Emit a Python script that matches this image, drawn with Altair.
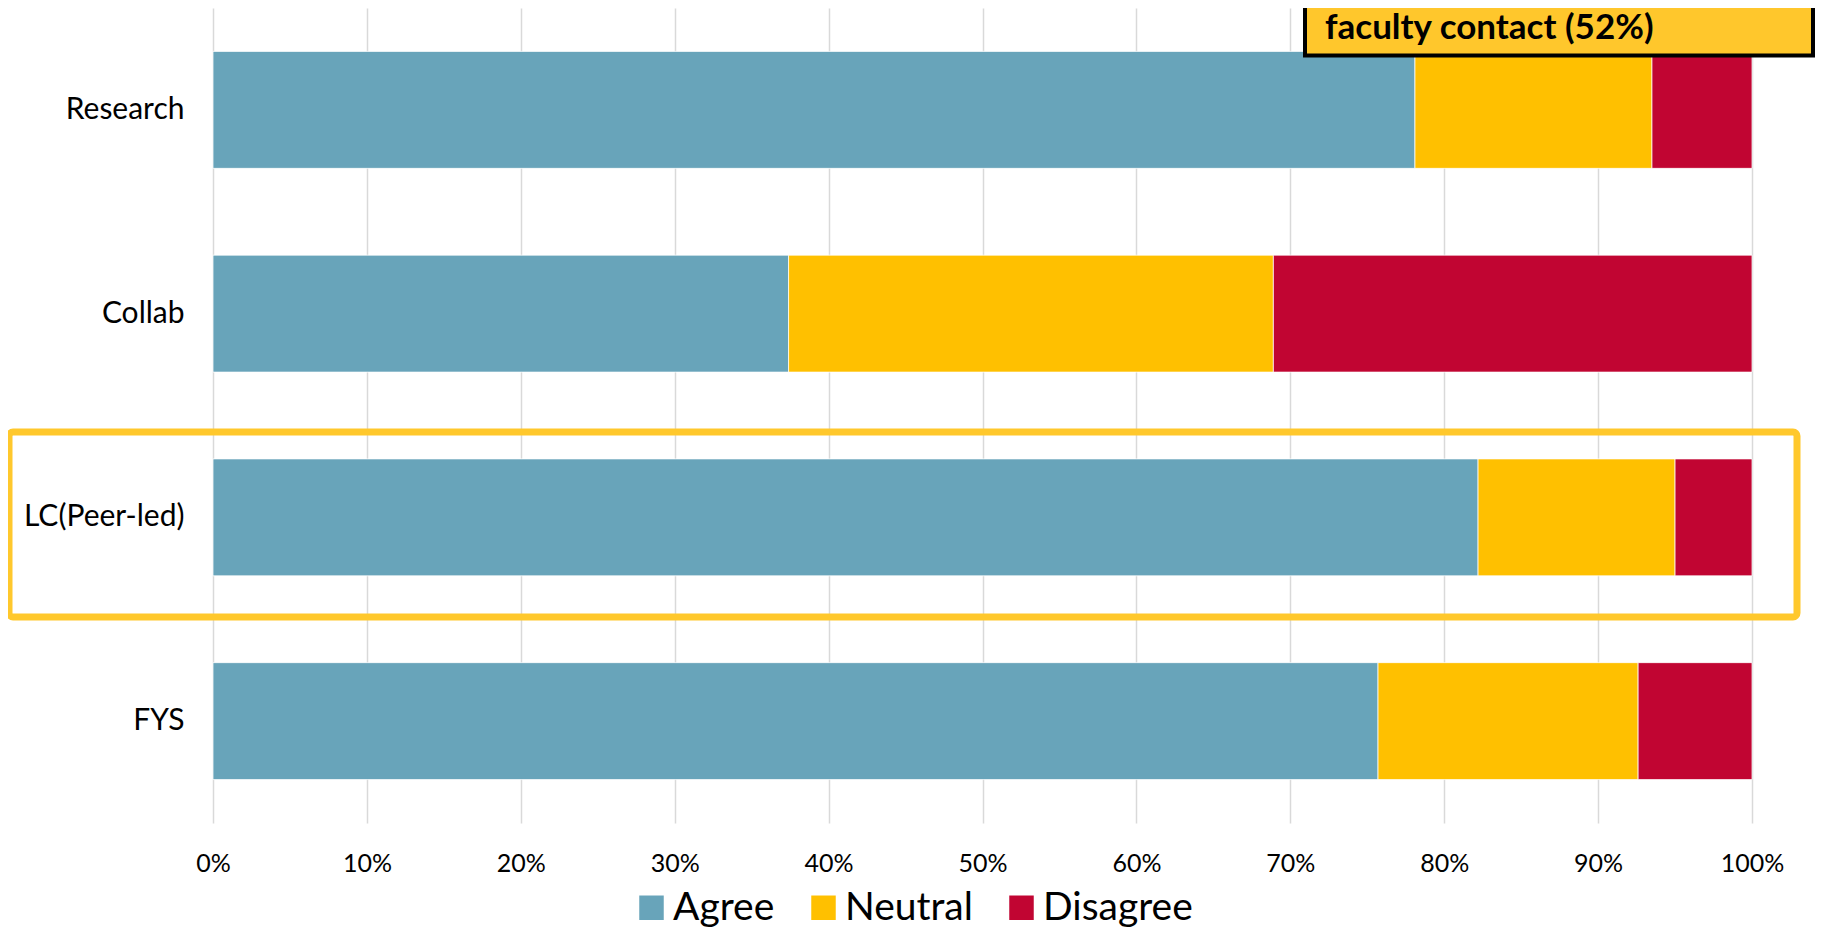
import altair as alt
import pandas as pd

categories = ["Research", "Collab", "LC(Peer-led)", "FYS"]
responses = ["Agree", "Neutral", "Disagree"]
agree = [78.1, 37.4, 82.2, 75.7]
neutral = [15.4, 31.5, 12.8, 16.9]
disagree = [6.5, 31.1, 5.0, 7.4]
colors = ["#68A4BA", "#FFC000", "#C10532"]
x_ticks = list(range(0, 101, 10))
highlight_category = "LC(Peer-led)"
callout_text = "faculty contact (52%)"

rows = []
for i, c in enumerate(categories):
    for j, (r, vals) in enumerate(zip(responses, [agree, neutral, disagree])):
        rows.append({"category": c, "response": r, "value": vals[i], "order": j})
df = pd.DataFrame(rows)

bars = alt.Chart(df).mark_bar(stroke="white", strokeWidth=0.75).encode(
    x=alt.X(
        "value:Q", stack="zero",
        scale=alt.Scale(domain=[0, 100], nice=False),
        axis=alt.Axis(values=x_ticks, labelExpr="datum.value + '%'", title=None,
                      grid=True, gridColor="#D9D9D9", gridWidth=1.5,
                      domain=False, ticks=False, tickSize=0, labelFlush=False,
                      labelFont="Lato", labelFontSize=25, labelColor="black",
                      labelPadding=28),
    ),
    y=alt.Y(
        "category:N", sort=categories,
        scale=alt.Scale(paddingInner=0.426, paddingOuter=0.213),
        axis=alt.Axis(title=None, domain=False, ticks=False, tickSize=0, grid=False,
                      labelFont="Lato", labelFontSize=30, labelColor="black",
                      labelPadding=29),
    ),
    color=alt.Color(
        "response:N", sort=responses,
        scale=alt.Scale(domain=responses, range=colors),
        legend=alt.Legend(orient="none", legendX=419, legendY=880, direction="horizontal",
                          title=None, symbolType="square", symbolSize=600,
                          symbolStrokeWidth=0, symbolOpacity=1,
                          labelFont="Lato", labelFontSize=39, labelColor="black",
                          labelOffset=2, columnPadding=29, padding=0, labelLimit=400),
    ),
    order=alt.Order("order:Q"),
)

hl = alt.Chart(pd.DataFrame({"category": [highlight_category]})).mark_rect(
    fillOpacity=0, stroke="#FFC82C", strokeWidth=7, cornerRadius=4
).encode(x=alt.value(-204), x2=alt.value(1584), y=alt.value(424), y2=alt.value(609))

callout_df = pd.DataFrame({"label": [callout_text]})
callout_box = alt.Chart(callout_df).mark_rect(
    fill="#FFC72C", stroke="black", strokeWidth=4
).encode(x=alt.value(1092), x2=alt.value(1600), y=alt.value(-30), y2=alt.value(47.5))

callout_txt = alt.Chart(callout_df).mark_text(
    font="Lato", fontWeight="bold", fontSize=35, align="left", baseline="alphabetic", color="black"
).encode(x=alt.value(1112), y=alt.value(31), text="label:N")

chart = alt.layer(bars, hl, callout_box, callout_txt).properties(
    width=1539, height=815,
    autosize=alt.AutoSizeParams(type="none"),
    padding={"left": 205, "top": 0, "right": 65, "bottom": 107},
    background="white",
).configure_view(strokeWidth=0)

chart.save("out.html", embed_options={"renderer": "svg", "actions": False})
